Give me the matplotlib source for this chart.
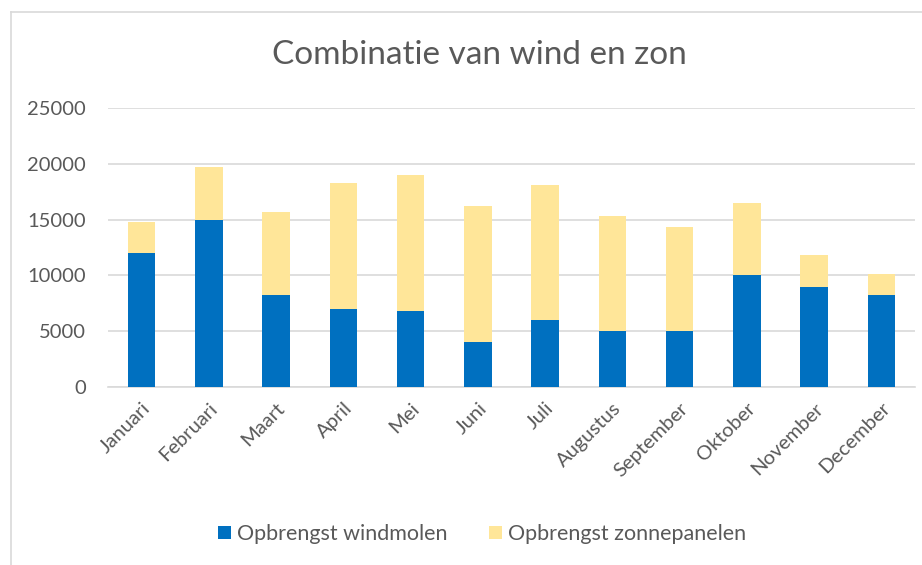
import matplotlib
matplotlib.use("Agg")
import matplotlib.pyplot as plt
import numpy as np

maanden = ["Januari", "Februari", "Maart", "April", "Mei", "Juni", "Juli",
           "Augustus", "September", "Oktober", "November", "December"]
windmolen = [12000, 15000, 8200, 7000, 6800, 4000, 6000, 5000, 5000, 10000, 9000, 8200]
zonnepanelen = [2800, 4700, 7500, 11300, 12200, 12200, 12100, 10300, 9300, 6500, 2800, 1900]
y_ticks = [0, 5000, 10000, 15000, 20000, 25000]

plt.rcParams['font.family'] = ['Lato', 'DejaVu Sans']
grijs = '#595959'

fig = plt.figure(figsize=(9.22, 5.65), dpi=100)
ax = fig.add_axes([108 / 922, 1 - 387 / 565, 807 / 922, 279 / 565])

x = np.arange(len(maanden))
ax.bar(x, windmolen, width=0.41, color='#0070C0', label='Opbrengst windmolen', zorder=3)
ax.bar(x, zonnepanelen, width=0.41, bottom=windmolen, color='#FFE699',
       label='Opbrengst zonnepanelen', zorder=3)

ax.set_xlim(-0.5, len(maanden) - 0.5)
ax.set_ylim(0, 25000)
ax.set_yticks(y_ticks)
ax.set_yticklabels([str(v) for v in y_ticks], fontsize=14.5, color=grijs)
ax.set_xticks(x)
ax.set_xticklabels(maanden, rotation=45, ha='right', rotation_mode='anchor',
                   fontsize=14.5, color=grijs)
ax.tick_params(axis='y', length=0, pad=16)
ax.tick_params(axis='x', length=0, pad=9)
ax.grid(axis='y', color='#d9d9d9', linewidth=1.2, zorder=0)
for s in ['top', 'right', 'left']:
    ax.spines[s].set_visible(False)
ax.spines['bottom'].set_color('#d9d9d9')
ax.spines['bottom'].set_linewidth(1.2)

fig.text(479 / 922, 1 - 55 / 565, "Combinatie van wind en zon", ha='center', va='center',
         fontsize=24, color=grijs)

fig.legend(loc='center', bbox_to_anchor=(482 / 922, 1 - 534 / 565), ncol=2, frameon=False,
           fontsize=15.5, labelcolor=grijs, handlelength=0.6, handleheight=0.6,
           handletextpad=0.3, columnspacing=1.9)

# lichte rand (links en boven) om de grafiek
fig.add_artist(plt.Line2D([11 / 922, 11 / 922], [0, 1 - 12 / 565], transform=fig.transFigure,
                          color='#d9d9d9', linewidth=1.2))
fig.add_artist(plt.Line2D([11 / 922, 1], [1 - 12 / 565, 1 - 12 / 565], transform=fig.transFigure,
                          color='#d9d9d9', linewidth=1.2))

fig.savefig("out.png", dpi=100)
